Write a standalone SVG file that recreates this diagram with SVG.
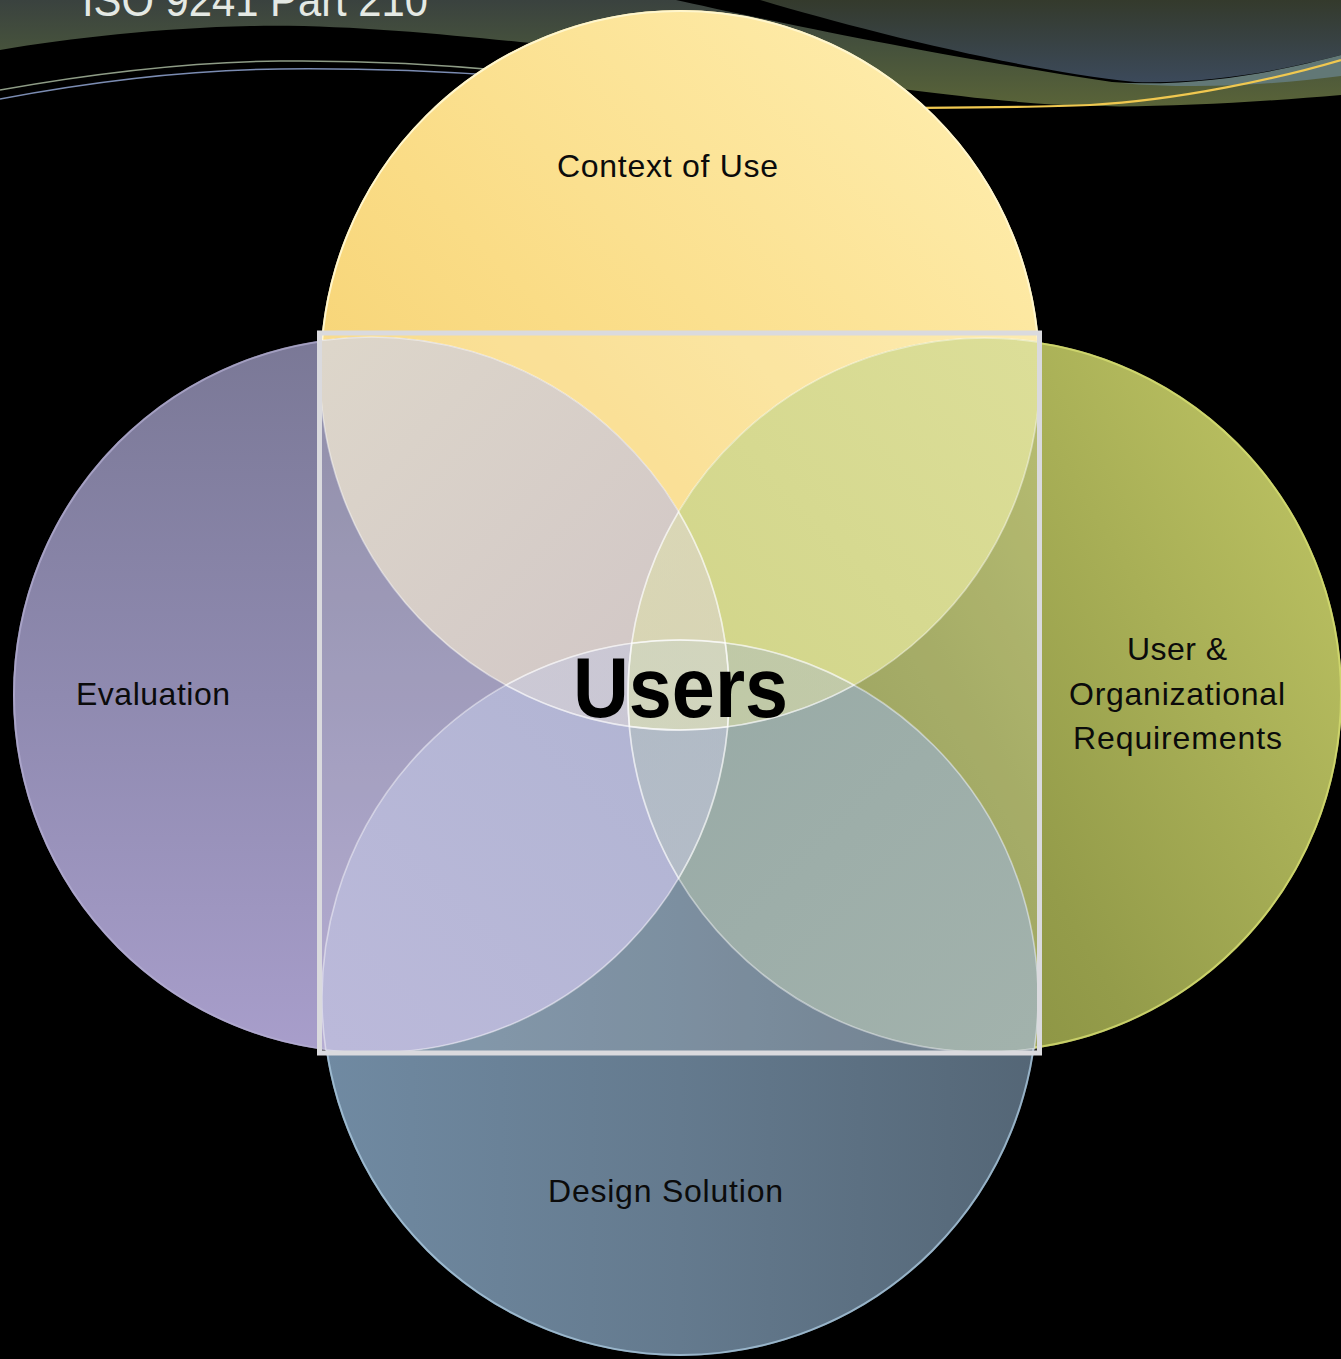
<svg xmlns="http://www.w3.org/2000/svg" width="1341" height="1359" viewBox="0 0 1341 1359">
<defs>
<style>
.lbl{font-family:"Liberation Sans",Arial,sans-serif;font-size:32px;fill:#0b0b0b;text-anchor:middle}
.big{font-family:"Liberation Sans",Arial,sans-serif;font-size:86px;font-weight:bold;fill:#000;text-anchor:middle}
.title{font-family:"Liberation Sans",Arial,sans-serif;font-size:46px;fill:#e4e9e4}
.rim{fill:none;stroke-width:2}
.edge{fill:none;stroke:#ffffff;stroke-opacity:0.45;stroke-width:1.6}
</style>
<linearGradient id="gBan" gradientUnits="userSpaceOnUse" x1="0" y1="0" x2="0" y2="108">
<stop offset="0" stop-color="#3a423f"/><stop offset="0.45" stop-color="#46523c"/><stop offset="1" stop-color="#5a6438"/>
</linearGradient>
<linearGradient id="gWave" gradientUnits="userSpaceOnUse" x1="0" y1="0" x2="0" y2="85">
<stop offset="0" stop-color="#343a2c"/><stop offset="1" stop-color="#3c4a5c"/>
</linearGradient>
<linearGradient id="gTop" x1="0" y1="1" x2="1" y2="0">
<stop offset="0" stop-color="#f3cc66"/><stop offset="0.45" stop-color="#fadc86"/><stop offset="1" stop-color="#fff0b4"/>
</linearGradient>
<linearGradient id="gLeft" x1="0" y1="0" x2="0" y2="1">
<stop offset="0" stop-color="#7a7896"/><stop offset="0.5" stop-color="#8f8ab0"/><stop offset="1" stop-color="#a89ecb"/>
</linearGradient>
<linearGradient id="gRight" x1="0" y1="0.8" x2="1" y2="0.2">
<stop offset="0" stop-color="#7e8638"/><stop offset="0.45" stop-color="#949c4a"/><stop offset="1" stop-color="#bcc262"/>
</linearGradient>
<linearGradient id="gBottom" x1="0" y1="0" x2="1" y2="0">
<stop offset="0" stop-color="#708aa2"/><stop offset="0.5" stop-color="#647a8e"/><stop offset="1" stop-color="#546676"/>
</linearGradient>
<linearGradient id="pTL" gradientUnits="userSpaceOnUse" x1="330" y1="345" x2="720" y2="720">
<stop offset="0" stop-color="#ddd6ca"/><stop offset="1" stop-color="#d0c5c6"/>
</linearGradient>
<linearGradient id="pTR" gradientUnits="userSpaceOnUse" x1="1030" y1="345" x2="640" y2="720">
<stop offset="0" stop-color="#dcde98"/><stop offset="1" stop-color="#d0d488"/>
</linearGradient>
<linearGradient id="pBL" gradientUnits="userSpaceOnUse" x1="330" y1="1045" x2="720" y2="650">
<stop offset="0" stop-color="#bbb9da"/><stop offset="1" stop-color="#b0b4d2"/>
</linearGradient>
<linearGradient id="pBR" gradientUnits="userSpaceOnUse" x1="1030" y1="1045" x2="640" y2="650">
<stop offset="0" stop-color="#a2b2ac"/><stop offset="1" stop-color="#98aaa6"/>
</linearGradient>
<path id="petTL" d="M321.2,340.5 A358,358 0 0 1 727.6,726.8 A360,360 0 0 1 321.2,340.5 Z"/>
<path id="petTR" d="M1038.9,342.1 A357,357 0 0 0 629.4,726.4 A360,360 0 0 0 1038.9,342.1 Z"/>
<path id="petBL" d="M725.2,642.9 A358,358 0 0 1 325.8,1050.1 A358,358 0 0 1 725.2,642.9 Z"/>
<path id="petBR" d="M631.8,643.3 A357,357 0 0 0 1034.4,1048.6 A358,358 0 0 0 631.8,643.3 Z"/>
<path id="lensV" d="M678.6,511.8 A358,358 0 0 1 678.6,878.2 A357,357 0 0 1 678.6,511.8 Z"/>
<path id="lensH" d="M506,685.1 A360,360 0 0 0 854,685.1 A358,358 0 0 0 506,685.1 Z"/>
<clipPath id="clipV"><use href="#lensV"/></clipPath>
<clipPath id="clipH"><use href="#lensH"/></clipPath>
</defs>

<rect x="0" y="0" width="1341" height="1359" fill="#000"/>

<g id="banner">
<path d="M0,0 H676 C740,14 900,50 1112,82 C1200,88 1285,80 1341,74 V95 C1260,102 1160,108 1090,106 C1020,104 960,96 910,90 C780,74 640,52 520,42 C440,34 340,24 250,26 C160,28 70,38 0,50 Z" fill="url(#gBan)"/>
<path d="M760,0 H1341 V55 C1290,68 1220,84 1135,82 C1020,70 860,30 760,0 Z" fill="url(#gWave)"/>
<path d="M1120,83 C1220,86 1290,68 1341,55 V76 C1280,84 1200,90 1120,83 Z" fill="#627876"/>
<path d="M800,108 C900,108 1020,108 1090,105 C1180,100 1280,78 1341,60" fill="none" stroke="#f0c850" stroke-width="2.2"/>
<path d="M0,90 C90,74 190,62 280,61 C370,60 440,64 520,72" fill="none" stroke="#8e9c86" stroke-width="1.5"/>
<path d="M0,99 C90,82 190,70 280,69 C370,68 440,71 520,77" fill="none" stroke="#7b8cb2" stroke-width="1.5"/>
<text class="title" x="82" y="16" textLength="346" lengthAdjust="spacingAndGlyphs">ISO 9241 Part 210</text>
</g>

<g id="node-context">
<circle cx="680" cy="370" r="360" fill="url(#gTop)"/>
<circle class="rim" cx="680" cy="370" r="359" stroke="#fff6cc"/>
</g>
<g id="node-requirements">
<circle cx="985" cy="695" r="357" fill="url(#gRight)"/>
<circle class="rim" cx="985" cy="695" r="356" stroke="#d4dc70" stroke-opacity="0.8"/>
</g>
<g id="node-design">
<circle cx="680" cy="998" r="358" fill="url(#gBottom)"/>
<circle class="rim" cx="680" cy="998" r="357" stroke="#a6c4da" stroke-opacity="0.8"/>
</g>
<g id="node-evaluation">
<circle cx="371" cy="695" r="358" fill="url(#gLeft)"/>
<circle class="rim" cx="371" cy="695" r="357" stroke="#b4aed2" stroke-opacity="0.7"/>
</g>

<g id="node-users">
<rect x="319.5" y="333" width="720" height="720" fill="#ffffff" fill-opacity="0.16"/>
<g id="overlaps">
<use href="#petTL" fill="url(#pTL)"/>
<use href="#petTR" fill="url(#pTR)"/>
<use href="#petBL" fill="url(#pBL)"/>
<use href="#petBR" fill="url(#pBR)"/>
<use href="#petTL" fill="url(#pTL)" opacity="0.5"/>
<g clip-path="url(#clipV)"><use href="#petBL" fill="url(#pBL)" opacity="0.5"/></g>
<g clip-path="url(#clipH)"><use href="#petTR" fill="url(#pTR)" opacity="0.5"/></g>
<use href="#lensV" fill="#ffffff" fill-opacity="0.14"/>
<use href="#lensH" fill="#ffffff" fill-opacity="0.14"/>
<use href="#petTL" class="edge"/>
<use href="#petTR" class="edge"/>
<use href="#petBL" class="edge"/>
<use href="#petBR" class="edge"/>
<use href="#lensV" class="edge" stroke-opacity="0.3"/>
<use href="#lensH" class="edge" stroke-opacity="0.3"/>
</g>
<rect x="319.5" y="333" width="720" height="720" fill="none" stroke="#dadade" stroke-width="5"/>
<text class="big" x="680.5" y="717" textLength="215" lengthAdjust="spacingAndGlyphs">Users</text>
</g>

<g id="labels">
<text class="lbl" x="667.5" y="177" textLength="221">Context of Use</text>
<text class="lbl" x="153" y="705" textLength="154">Evaluation</text>
<text class="lbl" x="1177" y="660" textLength="100">User &amp;</text>
<text class="lbl" x="1177" y="705" textLength="216">Organizational</text>
<text class="lbl" x="1177.5" y="749" textLength="209">Requirements</text>
<text class="lbl" x="665.5" y="1202" textLength="235">Design Solution</text>
</g>
</svg>
